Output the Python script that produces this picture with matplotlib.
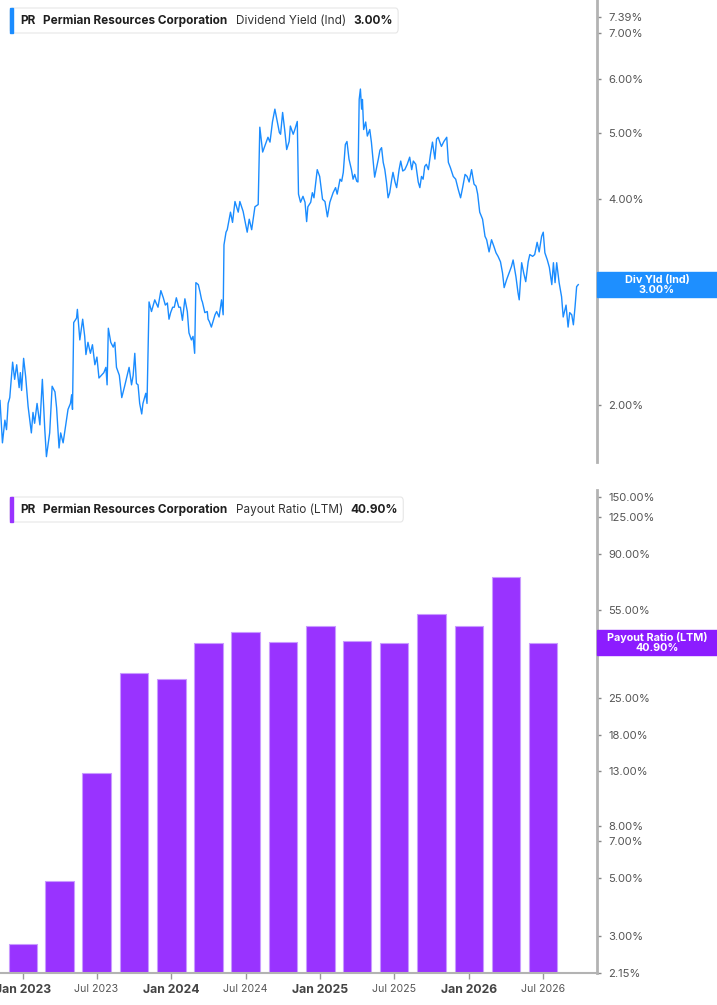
import numpy as np
import pandas as pd
import matplotlib
matplotlib.use('Agg')
import matplotlib.pyplot as plt
from matplotlib.patches import FancyBboxPatch, Rectangle

plt.rcParams['font.family'] = ['Inter', 'DejaVu Sans']

# Rendimiento de dividendo (%) - dias desde 2023-01-01
yield_days = [-56, -50, -44, -40, -36, -32, -25, -20, -15, -9, -6, -3,
              2, 7, 13, 21, 25, 29, 35, 42, 48, 54, 58, 66,
              72, 79, 83, 89, 93, 99, 107, 111, 117, 120, 122, 125,
              132, 134, 140, 147, 152, 155, 160, 166, 171, 177, 182, 187,
              193, 199, 204, 207, 210, 216, 222, 226, 230, 237, 243, 250,
              261, 267, 271, 275, 279, 283, 287, 292, 295, 302, 305, 310,
              316, 324, 332, 339, 345, 350, 355, 359, 363, 368, 372, 377,
              383, 387, 392, 398, 404, 408, 414, 418, 422, 425, 431, 435,
              439, 441, 447, 453, 455, 458, 463, 472, 476, 482, 488, 492,
              494, 499, 502, 510, 515, 521, 529, 533, 541, 551, 556, 562,
              570, 578, 582, 589, 594, 602, 607, 613, 619, 625, 630, 633,
              638, 643, 648, 654, 657, 664, 668, 674, 677, 682, 688, 693,
              697, 700, 707, 711, 715, 723, 729, 736, 742, 748, 754, 762,
              768, 772, 779, 783, 787, 792, 796, 801, 807, 811, 815, 820,
              823, 826, 829, 832, 834, 837, 842, 846, 852, 856, 860, 864,
              873, 877, 881, 885, 889, 893, 897, 901, 906, 909, 914, 918,
              924, 928, 933, 938, 944, 950, 955, 959, 965, 971, 975, 979,
              983, 987, 991, 996, 1001, 1006, 1012, 1016, 1020, 1024, 1028, 1034,
              1041, 1045, 1050, 1057, 1063, 1069, 1075, 1080, 1086, 1091, 1096, 1102,
              1108, 1113, 1117, 1122, 1129, 1135, 1139, 1145, 1151, 1157, 1162, 1167,
              1173, 1178, 1182, 1188, 1194, 1200, 1204, 1211, 1216, 1219, 1225, 1230,
              1235, 1241, 1245, 1252, 1257, 1263, 1268, 1274, 1278, 1282, 1288, 1293,
              1299, 1303, 1307, 1311, 1317, 1323, 1327, 1334, 1339, 1343, 1348, 1352,
              1356, 1360, 1364]
yield_vals = [2.03, 1.76, 1.90, 1.84, 2.01, 2.05, 2.31, 2.18, 2.29, 2.12, 2.23, 2.10,
              2.34, 2.20, 1.99, 1.82, 1.95, 1.88, 2.01, 1.87, 2.18, 1.84, 1.68, 1.82,
              2.13, 2.09, 1.98, 1.73, 1.82, 1.76, 1.90, 1.97, 2.01, 2.07, 1.97, 2.64,
              2.68, 2.76, 2.49, 2.67, 2.52, 2.37, 2.47, 2.38, 2.45, 2.29, 2.35, 2.19,
              2.21, 2.23, 2.27, 2.14, 2.59, 2.47, 2.43, 2.47, 2.27, 2.21, 2.05, 2.13,
              2.27, 2.14, 2.21, 2.38, 2.15, 2.14, 2.01, 1.94, 2.01, 2.08, 2.01, 2.83,
              2.74, 2.85, 2.78, 2.94, 2.87, 2.80, 2.82, 2.67, 2.73, 2.78, 2.78, 2.87,
              2.78, 2.78, 2.66, 2.86, 2.74, 2.55, 2.49, 2.52, 2.38, 3.02, 3.00, 2.93,
              2.85, 2.83, 2.73, 2.74, 2.67, 2.65, 2.60, 2.71, 2.74, 2.69, 2.85, 2.71,
              3.43, 3.58, 3.61, 3.83, 3.70, 3.97, 3.83, 3.97, 3.84, 3.58, 3.74, 3.61,
              3.90, 3.93, 5.10, 4.69, 4.78, 4.93, 4.85, 5.19, 5.42, 5.19, 5.01, 4.98,
              5.36, 5.06, 4.73, 4.86, 5.12, 4.98, 5.06, 5.20, 4.07, 3.96, 4.04, 3.96,
              3.71, 3.90, 3.96, 4.09, 4.02, 4.42, 4.32, 4.00, 3.97, 3.77, 3.96, 4.09,
              4.16, 4.07, 4.28, 4.25, 4.38, 4.81, 4.86, 4.58, 4.42, 4.28, 4.35, 4.25,
              4.24, 5.60, 5.80, 5.42, 5.60, 5.06, 5.19, 4.95, 5.06, 4.85, 4.58, 4.31,
              4.58, 4.72, 4.76, 4.53, 4.42, 4.24, 4.02, 4.09, 4.28, 4.38, 4.24, 4.16,
              4.42, 4.55, 4.40, 4.42, 4.50, 4.61, 4.42, 4.55, 4.50, 4.24, 4.16, 4.32,
              4.28, 4.47, 4.50, 4.42, 4.65, 4.85, 4.58, 4.90, 4.93, 4.85, 4.78, 4.86,
              4.93, 4.53, 4.45, 4.32, 4.28, 4.14, 4.02, 4.16, 4.35, 4.32, 4.24, 4.42,
              4.21, 4.18, 4.07, 3.83, 3.74, 3.53, 3.49, 3.35, 3.49, 3.41, 3.34, 3.30,
              3.24, 3.12, 2.97, 3.05, 3.12, 3.19, 3.26, 3.08, 2.92, 2.85, 3.23, 3.12,
              3.03, 3.24, 3.32, 3.30, 3.32, 3.46, 3.35, 3.53, 3.58, 3.34, 3.26, 3.18,
              3.00, 3.23, 3.02, 3.23, 3.02, 2.88, 2.69, 2.80, 2.60, 2.73, 2.71, 2.62,
              2.78, 2.98, 3.00]

# Payout ratio trimestral (%)
payout_quarters = ['2023-01-01', '2023-04-01', '2023-07-01', '2023-10-01',
                   '2024-01-01', '2024-04-01', '2024-07-01', '2024-10-01',
                   '2025-01-01', '2025-04-01', '2025-07-01', '2025-10-01',
                   '2026-01-01', '2026-04-01', '2026-07-01']
payout_vals = [2.78, 4.88, 12.8, 31.2, 29.7, 40.9, 45.0, 41.2, 47.3, 41.6,
               40.9, 52.9, 47.6, 73.6, 40.9]

yield_ticks = [2.0, 3.0, 4.0, 5.0, 6.0, 7.0, 7.39]
payout_ticks = [2.15, 3, 5, 7, 8, 13, 18, 25, 40, 55, 90, 125, 150]
month_ticks = ['2023-01-01', '2023-07-01', '2024-01-01', '2024-07-01',
               '2025-01-01', '2025-07-01', '2026-01-01', '2026-07-01']
month_labels = ['Jan 2023', 'Jul 2023', 'Jan 2024', 'Jul 2024',
                'Jan 2025', 'Jul 2025', 'Jan 2026', 'Jul 2026']

W, H = 717, 1005
blue = '#1a8cff'
purple = '#9933ff'
spine_c = '#b3b3b3'

base = pd.Timestamp('2023-01-01')
fechas = base + pd.to_timedelta(yield_days, unit='D')
trimestres = pd.to_datetime(payout_quarters)
xmin = base - pd.Timedelta(days=56)
xmax = base + pd.Timedelta(days=1410)


def fx(px):
    return px / W


def fy(py):
    return 1 - py / H


fig = plt.figure(figsize=(W / 100, H / 100), dpi=100)
ax1 = fig.add_axes([0, fy(462), fx(597), fy(0) - fy(462)])
ax2 = fig.add_axes([0, fy(973), fx(597), fy(490) - fy(973)])

# panel de arriba: rendimiento
ax1.plot(fechas, yield_vals, color=blue, lw=1.0)
ax1.set_yscale('log')
ax1.set_ylim(1.65, 7.83)

# panel de abajo: payout ratio (barras desde 1 para la escala log)
piso = 1.0
ax2.bar(trimestres, [v - piso for v in payout_vals], width=70, bottom=piso,
        color=purple, edgecolor='#c99bff', linewidth=0.8)
ax2.set_yscale('log')
ax2.set_ylim(2.15, 159.7)

for ax, ticks in [(ax1, yield_ticks), (ax2, payout_ticks)]:
    ax.set_xlim(xmin, xmax)
    ax.yaxis.tick_right()
    ax.set_yticks(ticks)
    ax.set_yticklabels([f'{t:.2f}%' for t in ticks])
    ax.yaxis.set_minor_locator(matplotlib.ticker.NullLocator())
    ax.tick_params(axis='y', which='major', direction='out', length=3, width=1,
                   color='#888888', labelcolor='#555555', labelsize=8.1, pad=5)
    for s in ['top', 'left']:
        ax.spines[s].set_visible(False)
    ax.spines['right'].set_color(spine_c)
    ax.spines['right'].set_linewidth(2)
    ax.patch.set_alpha(0)

ax1.spines['bottom'].set_visible(False)
ax1.set_xticks([])

ax2.spines['bottom'].set_color(spine_c)
ax2.spines['bottom'].set_linewidth(1.5)
ax2.set_xticks(pd.to_datetime(month_ticks))
ax2.set_xticklabels(month_labels)
ax2.xaxis.set_minor_locator(matplotlib.ticker.NullLocator())
ax2.tick_params(axis='x', direction='out', length=4, width=1, color='#999999', pad=4)
for lab in ax2.get_xticklabels():
    if lab.get_text().startswith('Jan'):
        lab.set_fontsize(8.8)
        lab.set_fontweight('bold')
        lab.set_color('#444444')
    else:
        lab.set_fontsize(7.6)
        lab.set_color('#555555')

fig.canvas.draw()
renderer = fig.canvas.get_renderer()


def leyenda(y_top, partes, color):
    yc = y_top + 12.5
    x = 20
    for txt, peso in partes:
        t = fig.text(fx(x), fy(yc), txt, fontsize=8.5, fontweight=peso,
                     color='#1f1f1f' if peso == 'bold' else '#333333',
                     va='center', ha='left', zorder=5)
        bb = t.get_window_extent(renderer)
        x = x + bb.width + 8
    x_end = x - 8 + 5
    caja = FancyBboxPatch((fx(10), fy(y_top + 25)), fx(x_end - 10), 25 / H,
                          boxstyle='round,pad=0,rounding_size=0.004',
                          transform=fig.transFigure, facecolor='white',
                          edgecolor='#e6e6e6', linewidth=0.8, zorder=4)
    fig.patches.append(caja)
    fig.patches.append(Rectangle((fx(10), fy(y_top + 25)), fx(3), 25 / H,
                                 transform=fig.transFigure, color=color, zorder=4.5))


leyenda(8, [('PR', 'bold'), ('Permian Resources Corporation', 'bold'),
            ('Dividend Yield (Ind)', 'normal'), ('3.00%', 'bold')], blue)
leyenda(497, [('PR', 'bold'), ('Permian Resources Corporation', 'bold'),
              ('Payout Ratio (LTM)', 'normal'), ('40.90%', 'bold')], purple)


def etiqueta(ax, valor, linea1, linea2, color):
    yd = ax.transData.transform((0, valor))[1]
    yf = yd / H
    h = 25 / H
    fig.patches.append(Rectangle((fx(597), yf - h / 2), fx(120), h,
                                 transform=fig.transFigure, color=color, zorder=6))
    fig.text(fx(657), yf, f'{linea1}\n{linea2}', color='white', fontsize=7.8,
             fontweight='bold', ha='center', va='center', linespacing=1.0, zorder=7)


etiqueta(ax1, yield_vals[-1], 'Div Yld (Ind)', '3.00%', '#1e8fff')
etiqueta(ax2, payout_vals[-1], 'Payout Ratio (LTM)', '40.90%', '#8c1cff')

fig.savefig('out.png', dpi=100)
